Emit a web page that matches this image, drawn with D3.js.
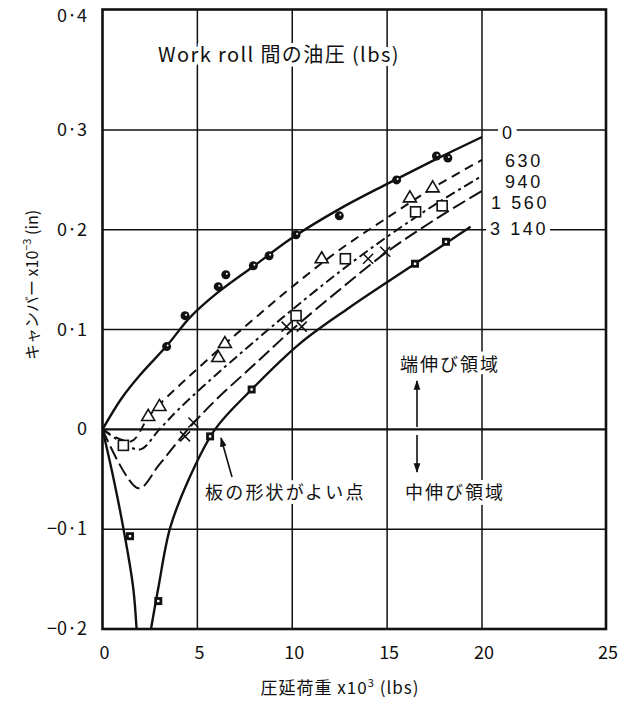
<!DOCTYPE html>
<html><head><meta charset="utf-8">
<script src="https://cdn.jsdelivr.net/npm/d3@7"></script>
<style>
body{margin:0;background:#fff;}
text{font-family:"Noto Sans CJK JP","Noto Sans",sans-serif;fill:#111;}
</style></head>
<body><svg id="c" width="637" height="704"></svg>
<script>
// ---- data ----
const xTicks = [0, 5, 10, 15, 20, 25];
const xTickLabels = ["0", "5", "10", "15", "20", "25"];
const yTicks = [-0.2, -0.1, 0, 0.1, 0.2, 0.3, 0.4];
const yTickLabels = ["−0·2", "−0·1", "0", "0·1", "0·2", "0·3", "0·4"];
const seriesNames = ["0", "630", "940", "1 560", "3 140"];

// measured points
const pts0 = [[3.38,0.083],[4.35,0.114],[6.1,0.143],[6.5,0.155],[7.95,0.164],[8.78,0.174],[10.2,0.195],[12.48,0.214],[15.5,0.25],[17.6,0.274],[18.2,0.272]];
const pts630 = [[2.41,0.014],[3.0,0.024],[6.1,0.073],[6.45,0.087],[11.55,0.172],[16.2,0.233],[17.4,0.243]];
const pts940 = [[1.1,-0.016],[10.2,0.114],[12.8,0.171],[16.5,0.218],[17.9,0.224]];
const pts1560 = [[4.35,-0.007],[4.79,0.007],[9.7,0.103],[10.5,0.103],[14.0,0.171],[14.9,0.178]];
const pts3140 = [[1.45,-0.107],[2.94,-0.172],[5.67,-0.007],[7.86,0.040],[16.47,0.166],[18.1,0.188]];

// fitted curves
const curve0 = [[0,0],[1,0.031],[2,0.055],[3.4,0.084],[4.6,0.112],[6,0.136],[8,0.164],[10,0.192],[12.5,0.221],[15,0.246],[17.5,0.270],[20,0.293]];
const curve630 = [[0,0],[1.5,-0.012],[2.4,0.012],[3,0.025],[4.5,0.052],[6.3,0.083],[8,0.111],[10,0.143],[12.5,0.18],[15,0.212],[17.5,0.243],[20,0.27]];
const curve940 = [[0,0],[1.1,-0.014],[2.0,-0.02],[3,0.0],[4,0.02],[6,0.055],[8,0.088],[10,0.12],[12.5,0.158],[15,0.193],[17.5,0.225],[20,0.254]];
const curve1560 = [[0,0],[1.9,-0.059],[3,-0.035],[4.5,0.0],[6,0.03],[8,0.065],[10,0.1],[12.5,0.14],[15,0.178],[17.5,0.21],[20,0.239]];
const curve3140a = [[0,0],[0.5,-0.042],[1.1,-0.099],[1.62,-0.159],[1.84,-0.215]];
const curve3140b = [[2.42,-0.215],[2.94,-0.159],[3.56,-0.099],[4.5,-0.052],[5.93,0],[7.86,0.040],[10.4,0.086],[13,0.122],[16.47,0.166],[19.4,0.203]];

// ---- drawing ----
const svg = d3.select("#c");
const x = d3.scaleLinear().domain([0, 20, 25]).range([102.5, 482, 606]);
const y = d3.scaleLinear().domain([-0.2, 0.3, 0.4]).range([629, 130, 9.5]);

svg.append("clipPath").attr("id","plot").append("rect")
  .attr("x", x(0)).attr("y", y(0.4)).attr("width", x(25)-x(0)).attr("height", y(-0.2)-y(0.4));

// grid
const g = svg.append("g");
g.selectAll(".vg").data(xTicks.slice(1,-1)).join("line")
  .attr("x1", d=>x(d)).attr("x2", d=>x(d)).attr("y1", y(0.4)).attr("y2", y(-0.2))
  .attr("stroke","#111").attr("stroke-width",1.5);
g.selectAll(".hg").data(yTicks.slice(1,-1)).join("line")
  .attr("y1", d=>y(d)).attr("y2", d=>y(d)).attr("x1", x(0)).attr("x2", x(25))
  .attr("stroke","#111").attr("stroke-width", d=> d===0 ? 2.3 : 1.5);

// curves
const line = d3.line().x(d=>x(d[0])).y(d=>y(d[1])).curve(d3.curveCatmullRom.alpha(0.5));
const lg = svg.append("g").attr("clip-path","url(#plot)").attr("fill","none").attr("stroke","#111");
lg.append("path").attr("d", line(curve0)).attr("stroke-width",2.4);
lg.append("path").attr("d", line(curve630)).attr("stroke-width",2).attr("stroke-dasharray","9,6");
lg.append("path").attr("d", line(curve940)).attr("stroke-width",2).attr("stroke-dasharray","10,4,3,4");
lg.append("path").attr("d", line(curve1560)).attr("stroke-width",2).attr("stroke-dasharray","14,5");
lg.append("path").attr("d", line(curve3140a)).attr("stroke-width",2.4);
lg.append("path").attr("d", line(curve3140b)).attr("stroke-width",2.4);

// markers
const mg = svg.append("g");
mg.selectAll(".c0").data(pts0).join("circle")
  .attr("cx", d=>x(d[0])).attr("cy", d=>y(d[1])).attr("r",4.5).attr("fill","#111");
mg.selectAll(".c0w").data(pts0).join("circle")
  .attr("cx", d=>x(d[0])+1).attr("cy", d=>y(d[1])-1).attr("r",1).attr("fill","#fff");
mg.selectAll(".t").data(pts630).join("path")
  .attr("d", d=>{const cx=x(d[0]), cy=y(d[1]); return `M${cx},${cy-6}L${cx+6.5},${cy+5}L${cx-6.5},${cy+5}Z`;})
  .attr("fill","#fff").attr("stroke","#111").attr("stroke-width",1.6);
mg.selectAll(".s").data(pts940).join("rect")
  .attr("x", d=>x(d[0])-5).attr("y", d=>y(d[1])-5).attr("width",10).attr("height",10)
  .attr("fill","#fff").attr("stroke","#111").attr("stroke-width",1.6);
mg.selectAll(".x").data(pts1560).join("path")
  .attr("d", d=>{const cx=x(d[0]), cy=y(d[1]); return `M${cx-5},${cy-5}L${cx+5},${cy+5}M${cx+5},${cy-5}L${cx-5},${cy+5}`;})
  .attr("stroke","#111").attr("stroke-width",1.5);
mg.selectAll(".fs").data(pts3140).join("rect")
  .attr("x", d=>x(d[0])-4).attr("y", d=>y(d[1])-4).attr("width",8).attr("height",8).attr("fill","#111");
mg.selectAll(".fsw").data(pts3140).join("rect")
  .attr("x", d=>x(d[0])-1.2).attr("y", d=>y(d[1])-1.2).attr("width",2.4).attr("height",2.4).attr("fill","#fff");

// border
svg.append("rect").attr("x", x(0)).attr("y", y(0.4)).attr("width", x(25)-x(0)).attr("height", y(-0.2)-y(0.4))
  .attr("fill","none").attr("stroke","#111").attr("stroke-width",2.6);

// tick labels
svg.selectAll(".xl").data(xTicks).join("text")
  .attr("x", d=>x(d)+2).attr("y", 659).attr("text-anchor","middle")
  .attr("font-size",18).text((d,i)=>xTickLabels[i]);
svg.selectAll(".yl").data(yTicks).join("text")
  .attr("x", 87).attr("y", d=>y(d) + (d===0.4 ? 12 : 6)).attr("text-anchor","end")
  .attr("font-size",18).text((d,i)=>yTickLabels[i]);

// series labels with white backing
const halo = sel => sel.attr("stroke","#fff").attr("stroke-width",8).attr("paint-order","stroke").attr("stroke-linejoin","round");
const labelX = [502, 505, 505, 491, 490];
const labelBase = [139, 167, 188, 209, 235];
const slg = svg.append("g");
const sl = slg.selectAll(".sl").data(seriesNames).join("text")
  .attr("x", (d,i)=>labelX[i]).attr("y", (d,i)=>labelBase[i])
  .style("font-family","'Liberation Sans',Arial,sans-serif")
  .attr("font-size",18).attr("letter-spacing",2.6).text(d=>d);
sl.each(function(){
  const b = this.getBBox();
  slg.insert("rect","text").attr("x",b.x-4).attr("y",b.y+2).attr("width",b.width+6).attr("height",b.height-4).attr("fill","#fff");
});

// annotations
svg.append("text").attr("x",158).attr("y",62).attr("font-size",20).attr("letter-spacing",1.4)
  .text("Work roll 間の油圧 (lbs)").call(halo);
svg.append("text").attr("x",205).attr("y",499).attr("font-size",18).attr("letter-spacing",2.2)
  .text("板の形状がよい点").call(halo);
svg.append("text").attr("x",400).attr("y",371).attr("font-size",18).attr("letter-spacing",2)
  .text("端伸び領域").call(halo);
svg.append("text").attr("x",405).attr("y",499).attr("font-size",18).attr("letter-spacing",2)
  .text("中伸び領域").call(halo);

// arrows
svg.append("defs").append("marker").attr("id","ah").attr("viewBox","0 0 10 10")
  .attr("refX",9).attr("refY",5).attr("markerWidth",6).attr("markerHeight",6).attr("orient","auto")
  .append("path").attr("d","M0,1.5L10,5L0,8.5Z").attr("fill","#111");
const arr = [[232,477,221,438],[417,427,417,381],[417,435,417,472]];
svg.selectAll(".ar").data(arr).join("line")
  .attr("x1",d=>d[0]).attr("y1",d=>d[1]).attr("x2",d=>d[2]).attr("y2",d=>d[3])
  .attr("stroke","#111").attr("stroke-width",1.6).attr("marker-end","url(#ah)");

// axis titles
svg.append("text").attr("x",340).attr("y",694).attr("text-anchor","middle").attr("font-size",17).attr("letter-spacing",1)
  .html("圧延荷重 x10<tspan dy='-7' font-size='11'>3</tspan><tspan dy='7'> (lbs)</tspan>");
svg.append("text").attr("transform","translate(38,285) rotate(-90)").attr("text-anchor","middle").attr("font-size",16)
  .html("キャンバー x10<tspan dy='-7' font-size='11'>−3</tspan><tspan dy='7'> (in)</tspan>");
</script></body></html>
